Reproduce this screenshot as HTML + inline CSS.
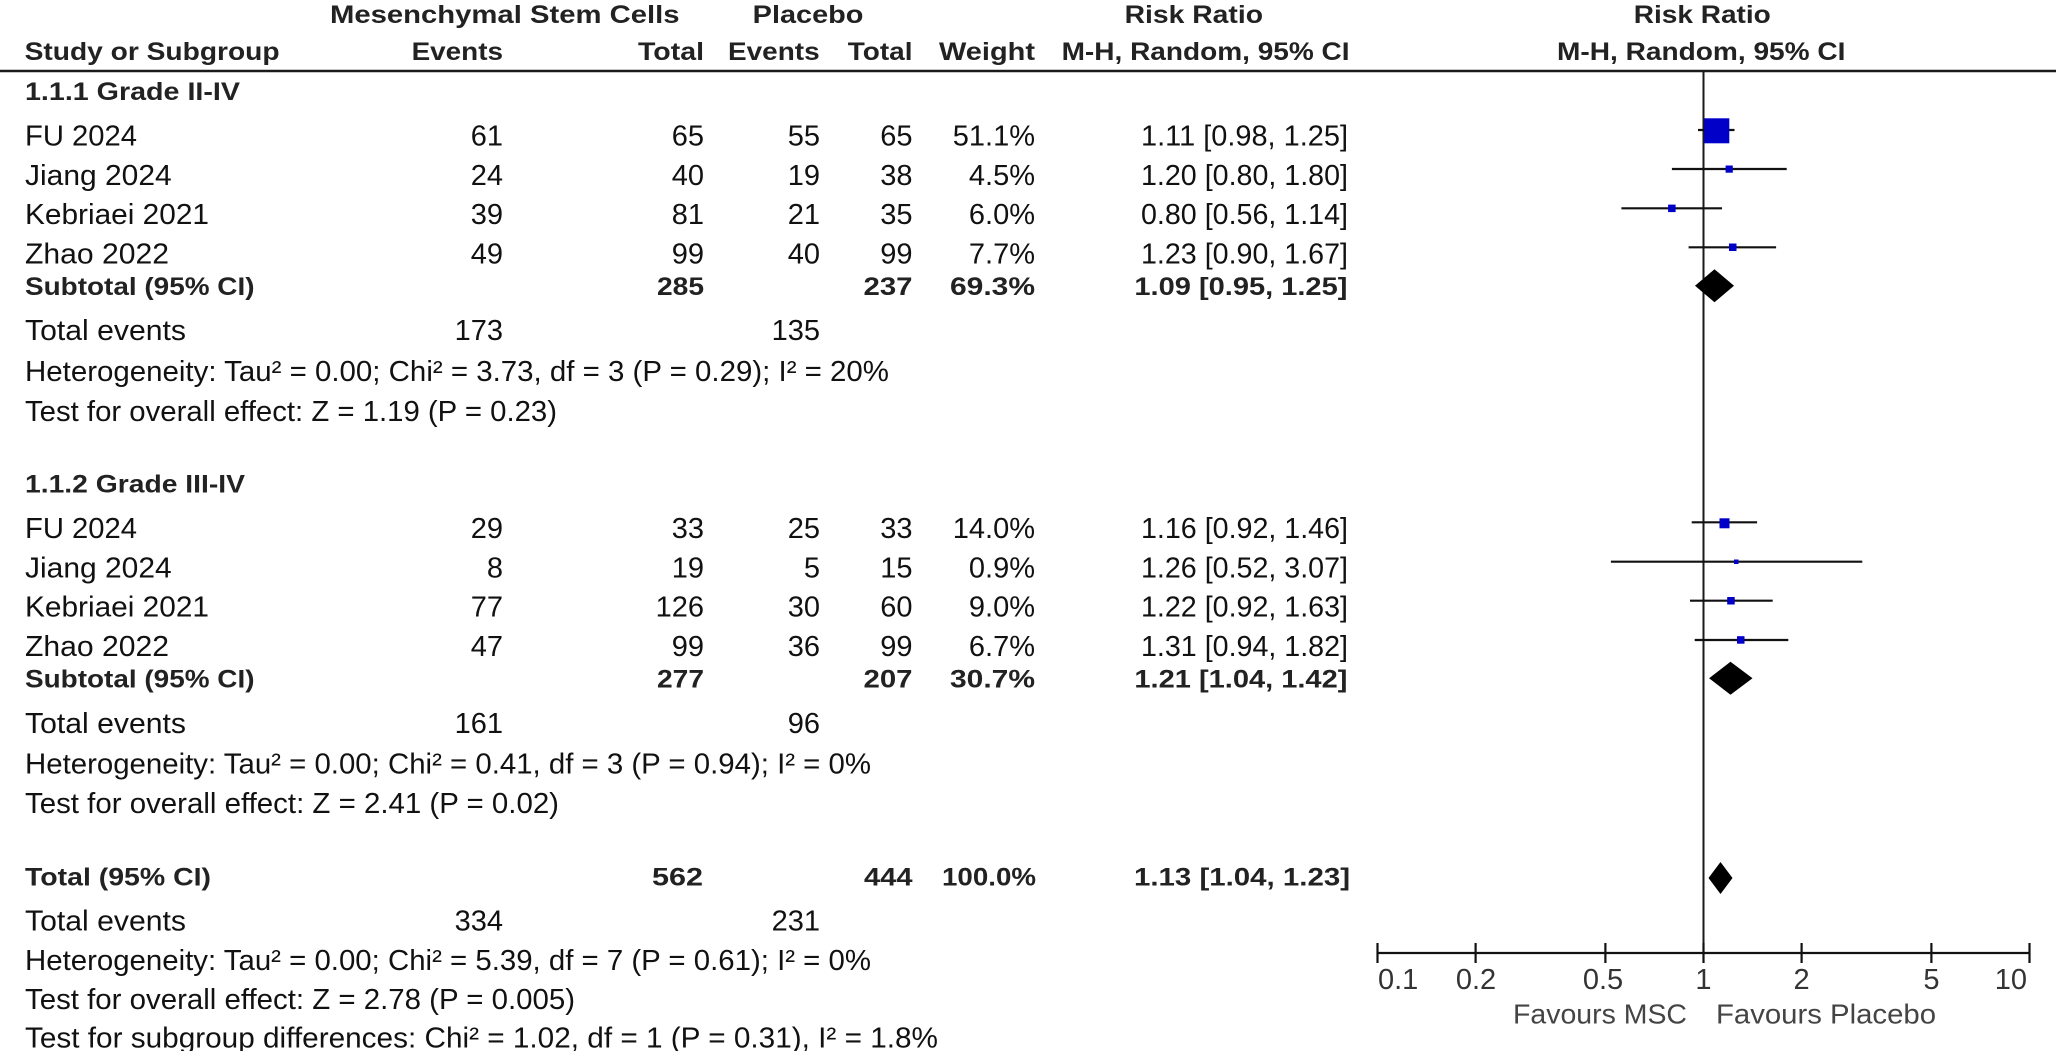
<!DOCTYPE html>
<html>
<head>
<meta charset="utf-8">
<style>
html,body{margin:0;padding:0;background:#fff;}
svg{display:block;}
text{font-family:"Liberation Sans",Arial,sans-serif;}
.b{font-weight:bold;font-size:25px;fill:#222;}
.r{font-size:29px;fill:#111;}
.e{text-anchor:end;}
.m{text-anchor:middle;}
.ax{font-size:29px;fill:#333;}
.fv{font-size:28px;fill:#444;}
</style>
</head>
<body>
<svg width="2056" height="1051" viewBox="0 0 2056 1051" xmlns="http://www.w3.org/2000/svg">
<!-- Headers -->
<text class="b" x="330" y="23" textLength="349.5" lengthAdjust="spacingAndGlyphs">Mesenchymal Stem Cells</text>
<text class="b" x="752.7" y="23" textLength="110.7" lengthAdjust="spacingAndGlyphs">Placebo</text>
<text class="b" x="1124.6" y="23" textLength="138.4" lengthAdjust="spacingAndGlyphs">Risk Ratio</text>
<text class="b" x="1633.8" y="23" textLength="137" lengthAdjust="spacingAndGlyphs">Risk Ratio</text>
<text class="b" x="24.6" y="60" textLength="255" lengthAdjust="spacingAndGlyphs">Study or Subgroup</text>
<text class="b" x="411.6" y="60" textLength="91.4" lengthAdjust="spacingAndGlyphs">Events</text>
<text class="b" x="638" y="60" textLength="66" lengthAdjust="spacingAndGlyphs">Total</text>
<text class="b" x="728" y="60" textLength="91.6" lengthAdjust="spacingAndGlyphs">Events</text>
<text class="b" x="847.8" y="60" textLength="64.7" lengthAdjust="spacingAndGlyphs">Total</text>
<text class="b" x="939" y="60" textLength="96" lengthAdjust="spacingAndGlyphs">Weight</text>
<text class="b" x="1061.6" y="60" textLength="288" lengthAdjust="spacingAndGlyphs">M-H, Random, 95% CI</text>
<text class="b" x="1557" y="60" textLength="288.5" lengthAdjust="spacingAndGlyphs">M-H, Random, 95% CI</text>
<line x1="0" y1="71" x2="2056" y2="71" stroke="#1a1a1a" stroke-width="2.5"/>

<!-- Group 1 -->
<text class="b" x="25" y="100" textLength="215" lengthAdjust="spacingAndGlyphs">1.1.1 Grade II-IV</text>

<text class="r" x="25" y="145.5" textLength="112" lengthAdjust="spacingAndGlyphs">FU 2024</text>
<text class="r e" x="503" y="145.5">61</text>
<text class="r e" x="704" y="145.5">65</text>
<text class="r e" x="820" y="145.5">55</text>
<text class="r e" x="912.5" y="145.5">65</text>
<text class="r e" x="1035" y="145.5">51.1%</text>
<text class="r" x="1141" y="145.5" textLength="207" lengthAdjust="spacingAndGlyphs">1.11 [0.98, 1.25]</text>

<text class="r" x="25" y="184.8" textLength="146.7" lengthAdjust="spacingAndGlyphs">Jiang 2024</text>
<text class="r e" x="503" y="184.8">24</text>
<text class="r e" x="704" y="184.8">40</text>
<text class="r e" x="820" y="184.8">19</text>
<text class="r e" x="912.5" y="184.8">38</text>
<text class="r e" x="1035" y="184.8">4.5%</text>
<text class="r" x="1141" y="184.8" textLength="207" lengthAdjust="spacingAndGlyphs">1.20 [0.80, 1.80]</text>

<text class="r" x="25" y="224.1" textLength="184" lengthAdjust="spacingAndGlyphs">Kebriaei 2021</text>
<text class="r e" x="503" y="224.1">39</text>
<text class="r e" x="704" y="224.1">81</text>
<text class="r e" x="820" y="224.1">21</text>
<text class="r e" x="912.5" y="224.1">35</text>
<text class="r e" x="1035" y="224.1">6.0%</text>
<text class="r" x="1141" y="224.1" textLength="207" lengthAdjust="spacingAndGlyphs">0.80 [0.56, 1.14]</text>

<text class="r" x="25" y="263.4" textLength="144" lengthAdjust="spacingAndGlyphs">Zhao 2022</text>
<text class="r e" x="503" y="263.4">49</text>
<text class="r e" x="704" y="263.4">99</text>
<text class="r e" x="820" y="263.4">40</text>
<text class="r e" x="912.5" y="263.4">99</text>
<text class="r e" x="1035" y="263.4">7.7%</text>
<text class="r" x="1141" y="263.4" textLength="207" lengthAdjust="spacingAndGlyphs">1.23 [0.90, 1.67]</text>

<text class="b" x="25" y="295" textLength="229.5" lengthAdjust="spacingAndGlyphs">Subtotal (95% CI)</text>
<text class="b" x="657" y="295" textLength="47" lengthAdjust="spacingAndGlyphs">285</text>
<text class="b" x="863.5" y="295" textLength="49" lengthAdjust="spacingAndGlyphs">237</text>
<text class="b" x="950" y="295" textLength="85" lengthAdjust="spacingAndGlyphs">69.3%</text>
<text class="b" x="1134.4" y="295" textLength="213" lengthAdjust="spacingAndGlyphs">1.09 [0.95, 1.25]</text>

<text class="r" x="25" y="340" textLength="161" lengthAdjust="spacingAndGlyphs">Total events</text>
<text class="r e" x="503" y="340">173</text>
<text class="r e" x="820" y="340">135</text>
<text class="r" x="25" y="381" textLength="864" lengthAdjust="spacingAndGlyphs">Heterogeneity: Tau² = 0.00; Chi² = 3.73, df = 3 (P = 0.29); I² = 20%</text>
<text class="r" x="25" y="421" textLength="532" lengthAdjust="spacingAndGlyphs">Test for overall effect: Z = 1.19 (P = 0.23)</text>

<!-- Group 2 -->
<text class="b" x="25" y="492.5" textLength="220" lengthAdjust="spacingAndGlyphs">1.1.2 Grade III-IV</text>

<text class="r" x="25" y="538" textLength="112" lengthAdjust="spacingAndGlyphs">FU 2024</text>
<text class="r e" x="503" y="538">29</text>
<text class="r e" x="704" y="538">33</text>
<text class="r e" x="820" y="538">25</text>
<text class="r e" x="912.5" y="538">33</text>
<text class="r e" x="1035" y="538">14.0%</text>
<text class="r" x="1141" y="538" textLength="207" lengthAdjust="spacingAndGlyphs">1.16 [0.92, 1.46]</text>

<text class="r" x="25" y="577.3" textLength="146.7" lengthAdjust="spacingAndGlyphs">Jiang 2024</text>
<text class="r e" x="503" y="577.3">8</text>
<text class="r e" x="704" y="577.3">19</text>
<text class="r e" x="820" y="577.3">5</text>
<text class="r e" x="912.5" y="577.3">15</text>
<text class="r e" x="1035" y="577.3">0.9%</text>
<text class="r" x="1141" y="577.3" textLength="207" lengthAdjust="spacingAndGlyphs">1.26 [0.52, 3.07]</text>

<text class="r" x="25" y="616.6" textLength="184" lengthAdjust="spacingAndGlyphs">Kebriaei 2021</text>
<text class="r e" x="503" y="616.6">77</text>
<text class="r e" x="704" y="616.6">126</text>
<text class="r e" x="820" y="616.6">30</text>
<text class="r e" x="912.5" y="616.6">60</text>
<text class="r e" x="1035" y="616.6">9.0%</text>
<text class="r" x="1141" y="616.6" textLength="207" lengthAdjust="spacingAndGlyphs">1.22 [0.92, 1.63]</text>

<text class="r" x="25" y="655.9" textLength="144" lengthAdjust="spacingAndGlyphs">Zhao 2022</text>
<text class="r e" x="503" y="655.9">47</text>
<text class="r e" x="704" y="655.9">99</text>
<text class="r e" x="820" y="655.9">36</text>
<text class="r e" x="912.5" y="655.9">99</text>
<text class="r e" x="1035" y="655.9">6.7%</text>
<text class="r" x="1141" y="655.9" textLength="207" lengthAdjust="spacingAndGlyphs">1.31 [0.94, 1.82]</text>

<text class="b" x="25" y="687.5" textLength="229.5" lengthAdjust="spacingAndGlyphs">Subtotal (95% CI)</text>
<text class="b" x="657" y="687.5" textLength="47" lengthAdjust="spacingAndGlyphs">277</text>
<text class="b" x="863.5" y="687.5" textLength="49" lengthAdjust="spacingAndGlyphs">207</text>
<text class="b" x="950" y="687.5" textLength="85" lengthAdjust="spacingAndGlyphs">30.7%</text>
<text class="b" x="1134.4" y="687.5" textLength="213" lengthAdjust="spacingAndGlyphs">1.21 [1.04, 1.42]</text>

<text class="r" x="25" y="733" textLength="161" lengthAdjust="spacingAndGlyphs">Total events</text>
<text class="r e" x="503" y="733">161</text>
<text class="r e" x="820" y="733">96</text>
<text class="r" x="25" y="773.5" textLength="846" lengthAdjust="spacingAndGlyphs">Heterogeneity: Tau² = 0.00; Chi² = 0.41, df = 3 (P = 0.94); I² = 0%</text>
<text class="r" x="25" y="813" textLength="534" lengthAdjust="spacingAndGlyphs">Test for overall effect: Z = 2.41 (P = 0.02)</text>

<!-- Total -->
<text class="b" x="25" y="885.5" textLength="186" lengthAdjust="spacingAndGlyphs">Total (95% CI)</text>
<text class="b" x="652" y="885.5" textLength="51" lengthAdjust="spacingAndGlyphs">562</text>
<text class="b" x="864" y="885.5" textLength="48.5" lengthAdjust="spacingAndGlyphs">444</text>
<text class="b" x="942" y="885.5" textLength="94" lengthAdjust="spacingAndGlyphs">100.0%</text>
<text class="b" x="1134" y="885.5" textLength="216" lengthAdjust="spacingAndGlyphs">1.13 [1.04, 1.23]</text>

<text class="r" x="25" y="930.5" textLength="161" lengthAdjust="spacingAndGlyphs">Total events</text>
<text class="r e" x="503" y="930.5">334</text>
<text class="r e" x="820" y="930.5">231</text>
<text class="r" x="25" y="970" textLength="846" lengthAdjust="spacingAndGlyphs">Heterogeneity: Tau² = 0.00; Chi² = 5.39, df = 7 (P = 0.61); I² = 0%</text>
<text class="r" x="25" y="1009" textLength="550" lengthAdjust="spacingAndGlyphs">Test for overall effect: Z = 2.78 (P = 0.005)</text>
<text class="r" x="25" y="1047.5" textLength="913" lengthAdjust="spacingAndGlyphs">Test for subgroup differences: Chi² = 1.02, df = 1 (P = 0.31), I² = 1.8%</text>

<!-- Forest plot -->
<line x1="1703.5" y1="71" x2="1703.5" y2="953" stroke="#1a1a1a" stroke-width="2"/>

<g stroke="#111" stroke-width="2.2">
  <line x1="1698" y1="130" x2="1734.5" y2="130"/>
  <line x1="1671.9" y1="169" x2="1786.7" y2="169"/>
  <line x1="1621.4" y1="208.3" x2="1722" y2="208.3"/>
  <line x1="1688.6" y1="247.3" x2="1776.1" y2="247.3"/>
  <line x1="1691.7" y1="522.3" x2="1757.1" y2="522.3"/>
  <line x1="1610.9" y1="561.7" x2="1862.3" y2="561.7"/>
  <line x1="1690" y1="600.7" x2="1772.7" y2="600.7"/>
  <line x1="1694.7" y1="640" x2="1788.3" y2="640"/>
</g>
<g fill="#0000c8">
  <rect x="1704.3" y="118.3" width="25" height="25"/>
  <rect x="1725.6" y="165.5" width="7.2" height="7.2"/>
  <rect x="1668.1" y="204.6" width="7.5" height="7.5"/>
  <rect x="1729" y="243.5" width="7.5" height="7.5"/>
  <rect x="1719.5" y="518.3" width="10" height="10"/>
  <rect x="1734" y="559.5" width="4.5" height="4.5"/>
  <rect x="1727.2" y="597" width="7.5" height="7.5"/>
  <rect x="1737" y="636.2" width="7.5" height="7.5"/>
</g>
<g fill="#000">
  <polygon points="1695,285.7 1714.5,269.2 1734,285.7 1714.5,302.2"/>
  <polygon points="1709.1,678.3 1730.5,661.8 1752.5,678.3 1730.5,694.8"/>
  <polygon points="1708.5,878 1720.5,862 1732.5,878 1720.5,894"/>
</g>

<!-- Axis -->
<g stroke="#111" stroke-width="2.2">
  <line x1="1377.5" y1="953" x2="2029.5" y2="953"/>
  <line x1="1377.5" y1="943" x2="1377.5" y2="963"/>
  <line x1="1475.6" y1="943" x2="1475.6" y2="963"/>
  <line x1="1605.4" y1="943" x2="1605.4" y2="963"/>
  <line x1="1703.5" y1="943" x2="1703.5" y2="963"/>
  <line x1="1801.6" y1="943" x2="1801.6" y2="963"/>
  <line x1="1931.4" y1="943" x2="1931.4" y2="963"/>
  <line x1="2029.5" y1="943" x2="2029.5" y2="963"/>
</g>
<text class="ax" x="1378" y="989">0.1</text>
<text class="ax m" x="1476" y="989">0.2</text>
<text class="ax m" x="1603" y="989">0.5</text>
<text class="ax m" x="1703.5" y="989">1</text>
<text class="ax m" x="1801.6" y="989">2</text>
<text class="ax m" x="1931.4" y="989">5</text>
<text class="ax e" x="2027" y="989">10</text>
<text class="fv" x="1513" y="1023.5" textLength="174" lengthAdjust="spacingAndGlyphs">Favours MSC</text>
<text class="fv" x="1716" y="1023.5" textLength="220" lengthAdjust="spacingAndGlyphs">Favours Placebo</text>
</svg>
</body>
</html>
